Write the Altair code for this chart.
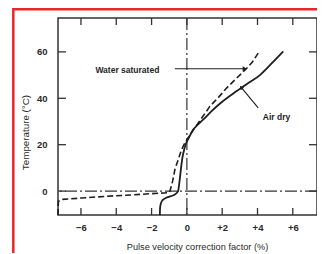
import altair as alt
import pandas as pd

# ---- data ----
air_x = [-1.53, -1.52, -1.48, -1.38, -1.20, -0.90, -0.65, -0.50, -0.42, -0.33, -0.25, -0.15, -0.05, 0.10, 0.36, 0.60, 0.95, 1.40, 2.00, 2.80, 3.50, 4.14, 4.80, 5.46]
air_y = [-10.3, -7.5, -5.5, -3.9, -3.0, -2.2, -1.3, 0.0, 4.0, 10.0, 14.5, 18.0, 20.5, 22.8, 26.5, 28.5, 31.0, 34.5, 38.5, 43.0, 46.7, 50.0, 55.0, 60.2]

wet_x = [-7.30, -7.28, -7.10, -6.00, -4.50, -3.00, -2.00, -1.30, -0.98, -0.80, -0.68, -0.45, -0.30, -0.11, 0.10, 0.40, 0.75, 1.30, 1.80, 2.25, 2.75, 3.35, 3.70, 4.10]
wet_y = [-10.3, -4.5, -3.6, -3.0, -2.2, -1.6, -1.1, -0.8, -0.6, 4.5, 9.3, 14.5, 17.9, 20.8, 23.3, 26.7, 30.5, 36.5, 40.5, 44.4, 48.2, 52.6, 55.5, 60.2]

x_ticks = [-6, -4, -2, 0, 2, 4, 6]
y_ticks = [0, 20, 40, 60]

label_text = ["Water saturated", "Air dry"]
label_x = [-3.37, 5.08]
label_y = [52.0, 32.0]

wet_arrow_x = [-0.68, 3.28]
wet_arrow_y = [52.7, 52.7]
air_arrow_x = [4.04, 3.10]
air_arrow_y = [35.9, 44.5]

X_TITLE = "Pulse velocity correction factor (%)"
Y_TITLE = "Temperature (\u00b0C)"

X_DOM = [-7.3, 7.37]
Y_DOM = [-10.3, 74.6]
W, H = 259, 197
INK = "#1e1e1e"
AXC = "#333333"

xs = alt.Scale(domain=X_DOM, nice=False, zero=False)
ys = alt.Scale(domain=Y_DOM, nice=False, zero=False)

x_axis = alt.Axis(values=x_ticks, title=X_TITLE,
                  labelExpr="datum.value > 0 ? '+' + datum.value : (datum.value < 0 ? '\u2212' + abs(datum.value) : '0')",
                  labelPadding=7, titleX=139, titleY=31, titleBaseline="middle", titleFontSize=9.2)
y_axis = alt.Axis(values=y_ticks, title=Y_TITLE, labelPadding=11,
                  titleX=-33, titleY=114, titleBaseline="middle", titleFontSize=9.8)

air = pd.DataFrame({"x": air_x, "y": air_y, "o": range(len(air_x))})
wet = pd.DataFrame({"x": wet_x, "y": wet_y, "o": range(len(wet_x))})
xt = pd.DataFrame({"x": x_ticks})
yt = pd.DataFrame({"y": y_ticks})
labels = pd.DataFrame({"t": label_text, "x": label_x, "y": label_y})
wa = pd.DataFrame({"x": wet_arrow_x, "y": wet_arrow_y})
aa = pd.DataFrame({"x": air_arrow_x, "y": air_arrow_y})

X = lambda: alt.X("x:Q", scale=xs, axis=x_axis, title=X_TITLE)
Y = lambda: alt.Y("y:Q", scale=ys, axis=y_axis, title=Y_TITLE)

zero_h = alt.Chart(pd.DataFrame({"y": [0]})).mark_rule(color=AXC, strokeWidth=1.2, strokeDash=[12, 3, 2, 3]).encode(y=Y())
zero_v = alt.Chart(pd.DataFrame({"x": [0]})).mark_rule(color=AXC, strokeWidth=1.2, strokeDash=[12, 3, 2, 3]).encode(x=X())

tick_style = dict(color=AXC, strokeWidth=1.3)
t_bot = alt.Chart(xt).mark_rule(**tick_style).encode(x=X(), y=alt.value(H), y2=alt.value(H - 7))
t_top = alt.Chart(xt).mark_rule(**tick_style).encode(x=X(), y=alt.value(0), y2=alt.value(7))
t_left = alt.Chart(yt).mark_rule(**tick_style).encode(y=Y(), x=alt.value(0), x2=alt.value(8))
t_right = alt.Chart(yt).mark_rule(**tick_style).encode(y=Y(), x=alt.value(W - 8), x2=alt.value(W))

air_line = alt.Chart(air).mark_line(color=INK, strokeWidth=1.8, interpolate="monotone").encode(x=X(), y=Y(), order="o:Q")
wet_line = alt.Chart(wet).mark_line(color=INK, strokeWidth=1.6, strokeDash=[6, 3]).encode(x=X(), y=Y(), order="o:Q")

txt = alt.Chart(labels).mark_text(fontSize=8.5, color=INK, font="Liberation Sans", fontWeight="bold").encode(
    x=X(), y=Y(), text="t:N")

wa_line = alt.Chart(wa).mark_line(color=INK, strokeWidth=1.1).encode(x=X(), y=Y())
wa_head = alt.Chart(wa.iloc[[1]]).mark_point(shape="triangle-right", filled=True, size=25, color=INK, opacity=1).encode(x=X(), y=Y())
aa_line = alt.Chart(aa).mark_line(color=INK, strokeWidth=1.1).encode(x=X(), y=Y())
aa_head = alt.Chart(aa.iloc[[1]]).mark_point(shape="triangle", angle=320, filled=True, size=20, color=INK, opacity=1).encode(x=X(), y=Y())

# red highlight frame around the figure (page decoration)
red_left = alt.Chart(pd.DataFrame({"a": [0]})).mark_rule(color="#e8262b", strokeWidth=2.5).encode(
    x=alt.value(-44.7), y=alt.value(-10), y2=alt.value(245))
red_top = alt.Chart(pd.DataFrame({"a": [0]})).mark_rule(color="#e8262b", strokeWidth=2.5).encode(
    x=alt.value(-44.7), x2=alt.value(270), y=alt.value(-8.8))

chart = alt.layer(
    zero_h, zero_v, t_bot, t_top, t_left, t_right,
    air_line, wet_line, wa_line, wa_head, aa_line, aa_head, txt, red_left, red_top
).properties(
    width=W, height=H,
    autosize=alt.AutoSizeParams(type="none"),
    padding={"left": 50, "top": 10, "right": 0, "bottom": 38},
    background="white",
).configure_view(
    stroke=AXC, strokeWidth=1.5
).configure_axis(
    domain=False, ticks=False, grid=False,
    labelFont="Liberation Sans", labelFontSize=9.5, labelFontWeight="bold", labelColor="#2a2a2a",
    titleFont="Liberation Sans", titleFontSize=9, titleFontWeight="normal", titleColor="#2a2a2a",
)

chart.save("out.html", embed_options={"renderer": "svg", "actions": False})
